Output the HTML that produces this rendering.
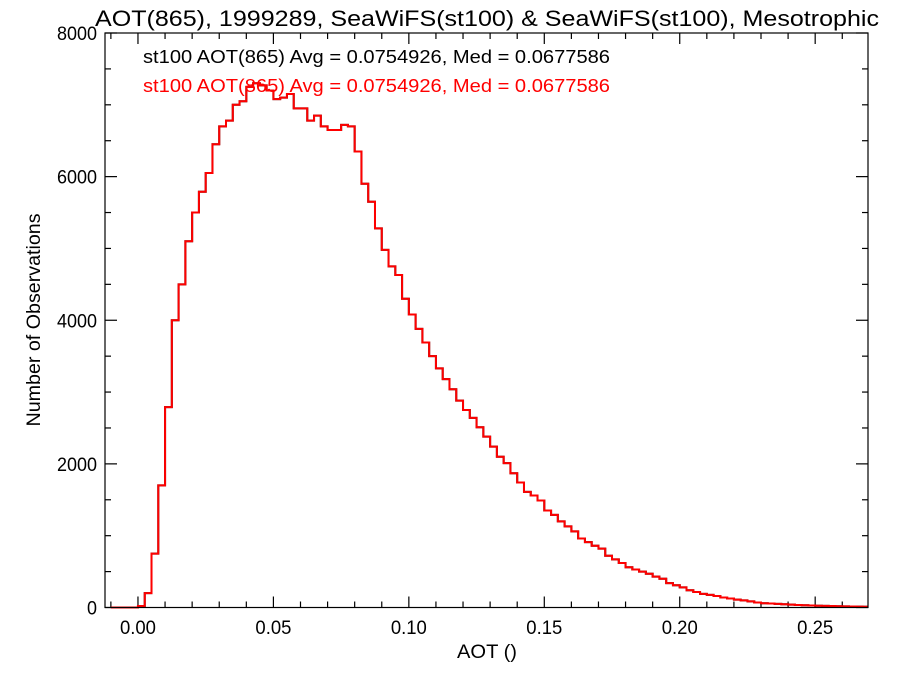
<!DOCTYPE html>
<html>
<head>
<meta charset="utf-8">
<style>
  html, body { margin: 0; padding: 0; background: #fff; }
  svg { display: block; }
  text { font-family: "Liberation Sans", "DejaVu Sans", sans-serif; }
</style>
</head>
<body>
<svg id="chart" width="900" height="675" viewBox="0 0 900 675" xmlns="http://www.w3.org/2000/svg">
  <rect x="0" y="0" width="900" height="675" fill="#fff"/>
  <text x="95" y="26" font-size="22" textLength="784" lengthAdjust="spacingAndGlyphs" fill="#000">AOT(865), 1999289, SeaWiFS(st100) &amp; SeaWiFS(st100), Mesotrophic</text>
  <g id="ticks"></g>
  <g id="series"></g>
  <rect x="105" y="33" width="763" height="574.5" fill="none" stroke="#000" stroke-width="1.2"/>
  <text x="143" y="63" font-size="18" textLength="467" lengthAdjust="spacingAndGlyphs" fill="#000">st100 AOT(865) Avg = 0.0754926, Med = 0.0677586</text>
  <text x="143" y="92" font-size="18" textLength="467" lengthAdjust="spacingAndGlyphs" fill="#ff0000">st100 AOT(865) Avg = 0.0754926, Med = 0.0677586</text>
  <text x="457" y="658" font-size="19" textLength="60" lengthAdjust="spacingAndGlyphs" fill="#000">AOT ()</text>
  <text transform="translate(40,320) rotate(-90)" font-size="19" text-anchor="middle" textLength="213" lengthAdjust="spacingAndGlyphs" fill="#000">Number of Observations</text>
</svg>
<script>
const binStart = -0.01;
const binWidth = 0.0025;
const countsA = [0,0,0,0,
 20,200,750,1700,2790,4000,4500,5100,5500,5790,6050,6450,6700,6780,7000,7050,7250,7300,7270,7200,
 7080,7100,7150,6950,6950,6780,6850,6700,6650,6650,6720,6700,6350,5900,5650,5280,4980,4750,4630,4300,
 4080,3880,3690,3500,3330,3180,3040,2880,2750,2640,2510,2380,2240,2100,2010,1870,1740,1610,1560,1490,
 1350,1290,1200,1130,1060,960,910,860,820,720,670,620,560,530,500,470,430,400,340,310,
 280,240,215,190,175,160,140,125,110,100,85,70,60,55,50,45,40,35,32,28,
 25,22,20,18,16,14,12,10];
const countsB = countsA.slice();
const xTickValues = [0.00, 0.05, 0.10, 0.15, 0.20, 0.25];
const xTickLabels = ["0.00", "0.05", "0.10", "0.15", "0.20", "0.25"];
const yTickValues = [0, 2000, 4000, 6000, 8000];
const yTickLabels = ["0", "2000", "4000", "6000", "8000"];

const X0 = 105, X1 = 868, Y0 = 607.5, Y1 = 33;
const xMin = -0.01217, xMax = 0.2695, yMin = 0, yMax = 8000;
const NS = "http://www.w3.org/2000/svg";
function xs(v) { return X0 + (v - xMin) / (xMax - xMin) * (X1 - X0); }
function ys(v) { return Y0 - (v - yMin) / (yMax - yMin) * (Y0 - Y1); }
function mk(tag, attrs, parent) {
  const el = document.createElementNS(NS, tag);
  for (const k in attrs) el.setAttribute(k, attrs[k]);
  parent.appendChild(el);
  return el;
}

const ticks = document.getElementById('ticks');
for (let i = -1; i <= 27; i++) {
  const v = i * 0.01;
  if (v < xMin || v > xMax) continue;
  const major = (i % 5 === 0);
  const len = major ? 11 : 6;
  const x = xs(v);
  const t1 = mk('line', {x1: x, x2: x, y1: Y0, y2: Y0 - len, stroke: '#000', 'stroke-width': 1.2}, ticks);
  
  
  const t2 = mk('line', {x1: x, x2: x, y1: Y1, y2: Y1 + len, stroke: '#000', 'stroke-width': 1.2}, ticks);
  
  
}
xTickValues.forEach((v, i) => {
  const t = mk('text', {x: xs(v) - 18, y: 634, 'font-size': 19, textLength: 36, lengthAdjust: 'spacingAndGlyphs', fill: '#000'}, ticks);
  t.textContent = xTickLabels[i];
  
  
});
for (let v = 0; v <= 8000; v += 500) {
  const major = (v % 2000 === 0);
  const len = major ? 12 : 6;
  const y = ys(v);
  const t1 = mk('line', {x1: X0, x2: X0 + len, y1: y, y2: y, stroke: '#000', 'stroke-width': 1.2}, ticks);
  
  
  const t2 = mk('line', {x1: X1, x2: X1 - len, y1: y, y2: y, stroke: '#000', 'stroke-width': 1.2}, ticks);
  
  
}
yTickValues.forEach((v, i) => {
  const w = yTickLabels[i].length * 10;
  const t = mk('text', {x: 97 - w, y: ys(v) + 7, 'font-size': 19, textLength: w, lengthAdjust: 'spacingAndGlyphs', fill: '#000'}, ticks);
  t.textContent = yTickLabels[i];
  
  
});

function stepPath(counts) {
  let d = '';
  counts.forEach((c, i) => {
    const a = Math.max(xMin, binStart + i * binWidth);
    const b = Math.min(xMax, binStart + (i + 1) * binWidth);
    if (b <= a) return;
    const y = ys(c);
    d += (d === '' ? 'M' : 'L') + xs(a).toFixed(2) + ',' + y.toFixed(2) + 'L' + xs(b).toFixed(2) + ',' + y.toFixed(2);
  });
  return d;
}
const series = document.getElementById('series');
const pA = mk('path', {d: stepPath(countsA), fill: 'none', stroke: '#000', 'stroke-width': 2}, series);


const pB = mk('path', {d: stepPath(countsB), fill: 'none', stroke: '#ff0000', 'stroke-width': 2}, series);


</script>
</body>
</html>
